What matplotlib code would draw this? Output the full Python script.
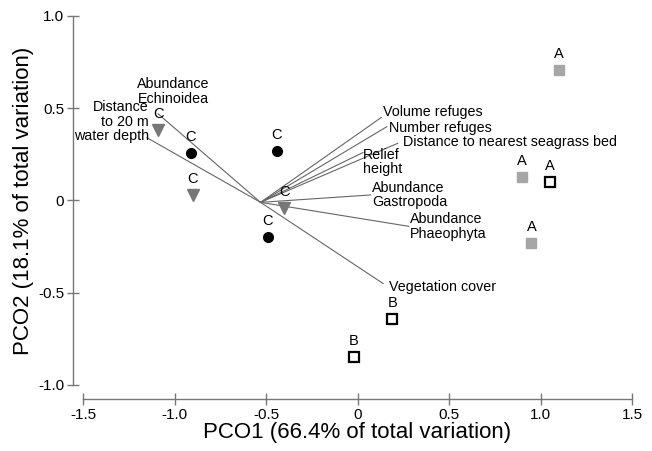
import matplotlib.pyplot as plt
import numpy as np

plt.rcParams['font.family'] = ['Liberation Sans', 'DejaVu Sans']

# Sample scores on PCO1 / PCO2, grouped by symbol
gray_sq_x = [1.10, 0.90, 0.95]
gray_sq_y = [0.71, 0.13, -0.23]
gray_sq_lab = ['A', 'A', 'A']

open_sq_x = [1.05, 0.19, -0.02]
open_sq_y = [0.10, -0.64, -0.85]
open_sq_lab = ['A', 'B', 'B']

circle_x = [-0.91, -0.44, -0.49]
circle_y = [0.26, 0.27, -0.20]
circle_lab = ['C', 'C', 'C']

tri_x = [-1.09, -0.90, -0.40]
tri_y = [0.38, 0.03, -0.04]
tri_lab = ['C', 'C', 'C']

# Vector overlay (origin and end points)
vec_origin = (-0.53, -0.01)
vec_names = ['Volume refuges', 'Number refuges', 'Distance to nearest seagrass bed',
             'Relief\nheight', 'Abundance\nGastropoda', 'Abundance\nPhaeophyta',
             'Vegetation cover', 'Abundance\nEchinoidea', 'Distance\nto 20 m\nwater depth']
vec_x = [0.13, 0.16, 0.22, 0.03, 0.07, 0.28, 0.14, -1.09, -1.15]
vec_y = [0.45, 0.40, 0.31, 0.26, 0.03, -0.14, -0.45, 0.47, 0.34]

# label placement for vectors: (dx px, dy px, ha, va)
vec_text = [(2, 5, 'left', 'center'), (2, -1, 'left', 'center'), (5, 1, 'left', 'center'),
            (0, 5, 'left', 'top'), (2, 0, 'left', 'center'), (1, 0, 'left', 'center'),
            (6, -3, 'left', 'center'), (15, 8, 'center', 'bottom'), (2, 16, 'right', 'center')]

fig = plt.figure(figsize=(6.52, 4.51), dpi=100)
ax = fig.add_axes([83 / 652, 1 - 385 / 451, 549 / 652, 369 / 451])
ax.set_xlim(-1.5, 1.5)
ax.set_ylim(-1.0, 1.0)

# vectors
for name, x, y, (dx, dy, ha, va) in zip(vec_names, vec_x, vec_y, vec_text):
    ax.plot([vec_origin[0], x], [vec_origin[1], y], color='#666666', lw=0.8, zorder=1)
    ax.annotate(name, (x, y), xytext=(dx, dy), textcoords='offset pixels',
                ha=ha, va=va, fontsize=10.3, multialignment=ha,
                linespacing=1.05, zorder=3)

# points
ax.plot(gray_sq_x, gray_sq_y, 's', color='#a6a6a6', ms=7.5, mec='#a6a6a6', ls='none', zorder=2)
ax.plot(open_sq_x, open_sq_y, 's', mfc='white', mec='black', mew=1.6, ms=6.5, ls='none', zorder=2)
ax.plot(circle_x, circle_y, 'o', color='black', ms=7, ls='none', zorder=2)
ax.plot(tri_x, tri_y, 'v', color='#777777', ms=8.5, ls='none', zorder=2)

for xs, ys, labs in [(gray_sq_x, gray_sq_y, gray_sq_lab), (open_sq_x, open_sq_y, open_sq_lab),
                     (circle_x, circle_y, circle_lab), (tri_x, tri_y, tri_lab)]:
    for x, y, lab in zip(xs, ys, labs):
        ax.annotate(lab, (x, y), xytext=(0, 9), textcoords='offset pixels',
                    ha='center', va='bottom', fontsize=10.5, zorder=3)

# range-frame style axes
for s in ['top', 'right']:
    ax.spines[s].set_visible(False)
ax.spines['left'].set_position(('outward', 7))
ax.spines['bottom'].set_position(('outward', 10))
ax.spines['left'].set_bounds(-1.0, 1.0)
ax.spines['bottom'].set_bounds(-1.5, 1.5)
for s in ['left', 'bottom']:
    ax.spines[s].set_color('#777777')
    ax.spines[s].set_linewidth(1.0)

ax.set_xticks([-1.5, -1.0, -0.5, 0, 0.5, 1.0, 1.5])
ax.set_xticklabels(['-1.5', '-1.0', '-0.5', '0', '0.5', '1.0', '1.5'])
ax.set_yticks([-1.0, -0.5, 0, 0.5, 1.0])
ax.set_yticklabels(['-1.0', '-0.5', '0', '0.5', '1.0'])
ax.tick_params(direction='inout', length=9, width=1.0, color='#777777',
               labelsize=11, pad=2)

ax.set_xlabel('PCO1 (66.4% of total variation)', fontsize=16, labelpad=0)
ax.set_ylabel('PCO2 (18.1% of total variation)', fontsize=16, labelpad=3)

fig.savefig('out.png', dpi=100)
